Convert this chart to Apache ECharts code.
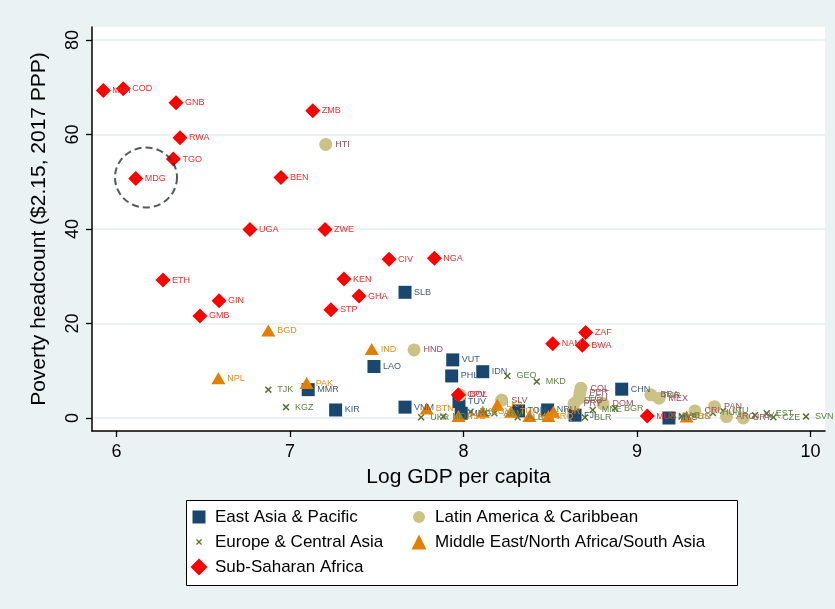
<!DOCTYPE html>
<html>
<head>
<meta charset="utf-8">
<script src="https://cdn.jsdelivr.net/npm/echarts@6/dist/echarts.min.js"></script>
<style>
  html, body { margin: 0; padding: 0; background: #eaf2f3; }
  #chart { width: 835px; height: 609px; }
</style>
</head>
<body>
<div id="chart"></div>
<script>
// Poverty headcount vs log GDP per capita, by region

const xTicks = [6, 7, 8, 9, 10];
const yTicks = [0, 20, 40, 60, 80];

// East Asia & Pacific
const eapNames = ['SLB', 'VUT', 'PHL', 'IDN', 'LAO', 'MMR', 'KIR', 'VNM', 'TUV', 'MNG', 'TON', 'NRU', 'FJI', 'CHN', 'MYS'];
const eapX = [7.663, 7.938, 7.932, 8.111, 7.484, 7.105, 7.263, 7.663, 7.974, 7.987, 8.317, 8.485, 8.643, 8.912, 9.184];
const eapY = [26.6, 12.3, 8.9, 9.8, 10.9, 6.0, 1.7, 2.3, 3.5, 1.0, 1.5, 1.7, 0.6, 6.1, 0.0];

// Europe & Central Asia
const ecaNames = ['TJK', 'KGZ', 'GEO', 'MKD', 'UKR', 'MDA', 'XKX', 'ARM', 'ALB', 'SRB', 'BLR', 'MNE', 'BGR', 'TUR', 'KAZ', 'RUS', 'HUN', 'LTU', 'LVA', 'EST', 'CZE', 'SVN'];
const ecaX = [6.875, 6.977, 8.253, 8.422, 7.756, 7.884, 8.040, 8.178, 8.312, 8.643, 8.700, 8.745, 8.873, 9.092, 9.207, 9.259, 9.438, 9.496, 9.680, 9.748, 9.786, 9.974];
const ecaY = [6.0, 2.3, 8.9, 7.7, 0.15, 0.3, 1.3, 1.0, 0.15, 3.6, 0.1, 1.7, 2.05, 4.7, 0.6, 0.4, 1.06, 1.5, 0.6, 1.0, 0.15, 0.3];

// Latin America & Caribbean
const lacNames = ['HTI', 'HND', 'BOL', 'SLV', 'COL', 'PER', 'ECU', 'PRY', 'DOM', 'BRA', 'MEX', 'CRI', 'PAN', 'ARG', 'URY'];
const lacX = [7.206, 7.715, 7.980, 8.220, 8.677, 8.671, 8.666, 8.637, 8.804, 9.080, 9.127, 9.334, 9.447, 9.516, 9.613];
const lacY = [57.9, 14.4, 4.9, 3.8, 6.3, 5.3, 4.2, 3.0, 3.0, 4.9, 4.2, 1.5, 2.4, 0.3, 0.0];

// Middle East / North Africa / South Asia
const mnaNames = ['BGD', 'IND', 'NPL', 'PAK', 'BTN', 'PSE', 'EGY', 'LKA', 'TUN', 'MAR', 'IRQ', 'JOR', 'IRN'];
const mnaX = [6.875, 7.471, 6.587, 7.096, 7.788, 7.971, 8.111, 8.195, 8.274, 8.380, 8.489, 8.518, 9.286];
const mnaY = [18.5, 14.6, 8.4, 7.4, 2.0, 0.4, 1.3, 2.8, 1.3, 0.4, 0.4, 1.3, 0.3];

// Sub-Saharan Africa
const ssaNames = ['MWI', 'COD', 'GNB', 'ZMB', 'RWA', 'TGO', 'MDG', 'BEN', 'UGA', 'ZWE', 'CIV', 'NGA', 'KEN', 'ETH', 'GHA', 'GIN', 'GMB', 'STP', 'ZAF', 'NAM', 'BWA', 'CPV', 'MUS'];
const ssaX = [5.924, 6.039, 6.343, 7.131, 6.366, 6.328, 6.111, 6.948, 6.769, 7.202, 7.571, 7.832, 7.311, 6.268, 7.398, 6.591, 6.481, 7.236, 8.704, 8.514, 8.685, 7.970, 9.059];
const ssaY = [69.3, 69.7, 66.7, 65.0, 59.3, 54.8, 50.7, 50.9, 39.9, 39.9, 33.6, 33.8, 29.4, 29.2, 25.8, 24.8, 21.6, 22.9, 18.1, 15.7, 15.4, 4.9, 0.4];

// highlighted country (dashed ring)
const ringX = [6.170];
const ringY = [50.9];

const FONT = 'Liberation Sans, Arial, Helvetica, sans-serif';
const CROSS = 'path://M1.5,0L5,3.5L8.5,0L10,1.5L6.5,5L10,8.5L8.5,10L5,6.5L1.5,10L0,8.5L3.5,5L0,1.5Z';

function pts(xs, ys, names) {
  return xs.map((x, i) => [x, ys[i], names ? names[i] : '']);
}

function region(name, xs, ys, names, symbol, size, color, labelColor, dist) {
  return {
    name: name,
    type: 'scatter',
    data: pts(xs, ys, names),
    symbol: symbol,
    symbolSize: size,
    itemStyle: { color: color, opacity: 1 },
    label: {
      show: true,
      position: 'right',
      distance: dist,
      formatter: p => p.data[2],
      color: labelColor,
      fontSize: 9,
      fontFamily: FONT
    },
    emphasis: { disabled: true },
    clip: false
  };
}

const series = [
  region('East Asia & Pacific', eapX, eapY, eapNames, 'rect', 13, '#1a476f', '#3b5b82', 2.5),
  region('Europe & Central Asia', ecaX, ecaY, ecaNames, CROSS, 7, '#55752f', '#628244', 5.5),
  region('Latin America & Caribbean', lacX, lacY, lacNames, 'circle', 13, '#cbc386', '#9d4e58', 3),
  region('Middle East/North Africa/South Asia', mnaX, mnaY, mnaNames, 'triangle', [14, 12], '#e37e00', '#ec8c1c', 2),
  region('Sub-Saharan Africa', ssaX, ssaY, ssaNames, 'diamond', 15, '#ff0000', '#ff2a2a', 1.5),
  {
    name: 'ring',
    type: 'scatter',
    data: pts(ringX, ringY),
    symbol: 'circle',
    symbolSize: [62, 60],
    itemStyle: { color: 'rgba(0,0,0,0)', borderColor: '#263434', borderWidth: 2, borderType: [7, 4] },
    silent: true,
    z: 5
  }
];

// one legend block per entry so every key sits exactly in its row/column;
// icon box is square (keeps the marker shape), text pushed to a common column
function legendItem(name, cx, cy, s) {
  const textH = 17;
  return {
    data: [name],
    left: cx - s / 2,
    top: cy - Math.max(s, textH) / 2,
    padding: 0,
    itemWidth: s,
    itemHeight: s,
    selectedMode: false,
    textStyle: {
      fontSize: 17, color: '#000', fontFamily: FONT,
      padding: [0, 0, 0, 11 - s / 2]
    }
  };
}

const option = {
  animation: false,
  backgroundColor: '#eaf2f3',
  grid: {
    left: 92, right: 10, top: 27, bottom: 178,
    show: true, backgroundColor: '#ffffff', borderWidth: 0
  },
  xAxis: {
    type: 'value',
    min: 5.8588, max: 10.0836,
    name: 'Log GDP per capita',
    nameLocation: 'middle',
    nameGap: 36,
    nameTextStyle: { fontSize: 21, color: '#000', fontFamily: FONT },
    axisLine: { show: true, onZero: false, lineStyle: { color: '#000', width: 1.5 } },
    axisTick: { show: true, length: 6, customValues: xTicks, lineStyle: { color: '#000', width: 1.3 } },
    axisLabel: { customValues: xTicks, fontSize: 18, color: '#000', margin: 12, fontFamily: FONT },
    splitLine: { show: false }
  },
  yAxis: {
    type: 'value',
    min: -2.75, max: 82.75,
    name: 'Poverty headcount ($2.15, 2017 PPP)',
    nameLocation: 'middle',
    nameGap: 42,
    nameTextStyle: { fontSize: 21, color: '#000', fontFamily: FONT },
    axisLine: { show: true, onZero: false, lineStyle: { color: '#000', width: 1.5 } },
    axisTick: { show: true, length: 6, customValues: yTicks, lineStyle: { color: '#000', width: 1.3 } },
    axisLabel: { customValues: yTicks, rotate: 90, fontSize: 18, color: '#000', margin: 10, fontFamily: FONT },
    splitLine: { show: true, lineStyle: { color: '#e4eef0', width: 1.5 } }
  },
  legend: [
    legendItem('East Asia & Pacific', 199, 517, 13),
    legendItem('Europe & Central Asia', 199, 542, 6),
    legendItem('Sub-Saharan Africa', 199, 567, 17),
    legendItem('Latin America & Caribbean', 419, 517, 12),
    legendItem('Middle East/North Africa/South Asia', 419, 542, 15)
  ],
  graphic: [{
    type: 'rect',
    shape: { x: 186.5, y: 500.5, width: 551, height: 85 },
    style: { fill: '#ffffff', stroke: '#000', lineWidth: 1 },
    z: 0, silent: true
  }],
  series: series
};

const chart = echarts.init(document.getElementById('chart'), null, { renderer: 'canvas' });
chart.setOption(option);
</script>
</body>
</html>
